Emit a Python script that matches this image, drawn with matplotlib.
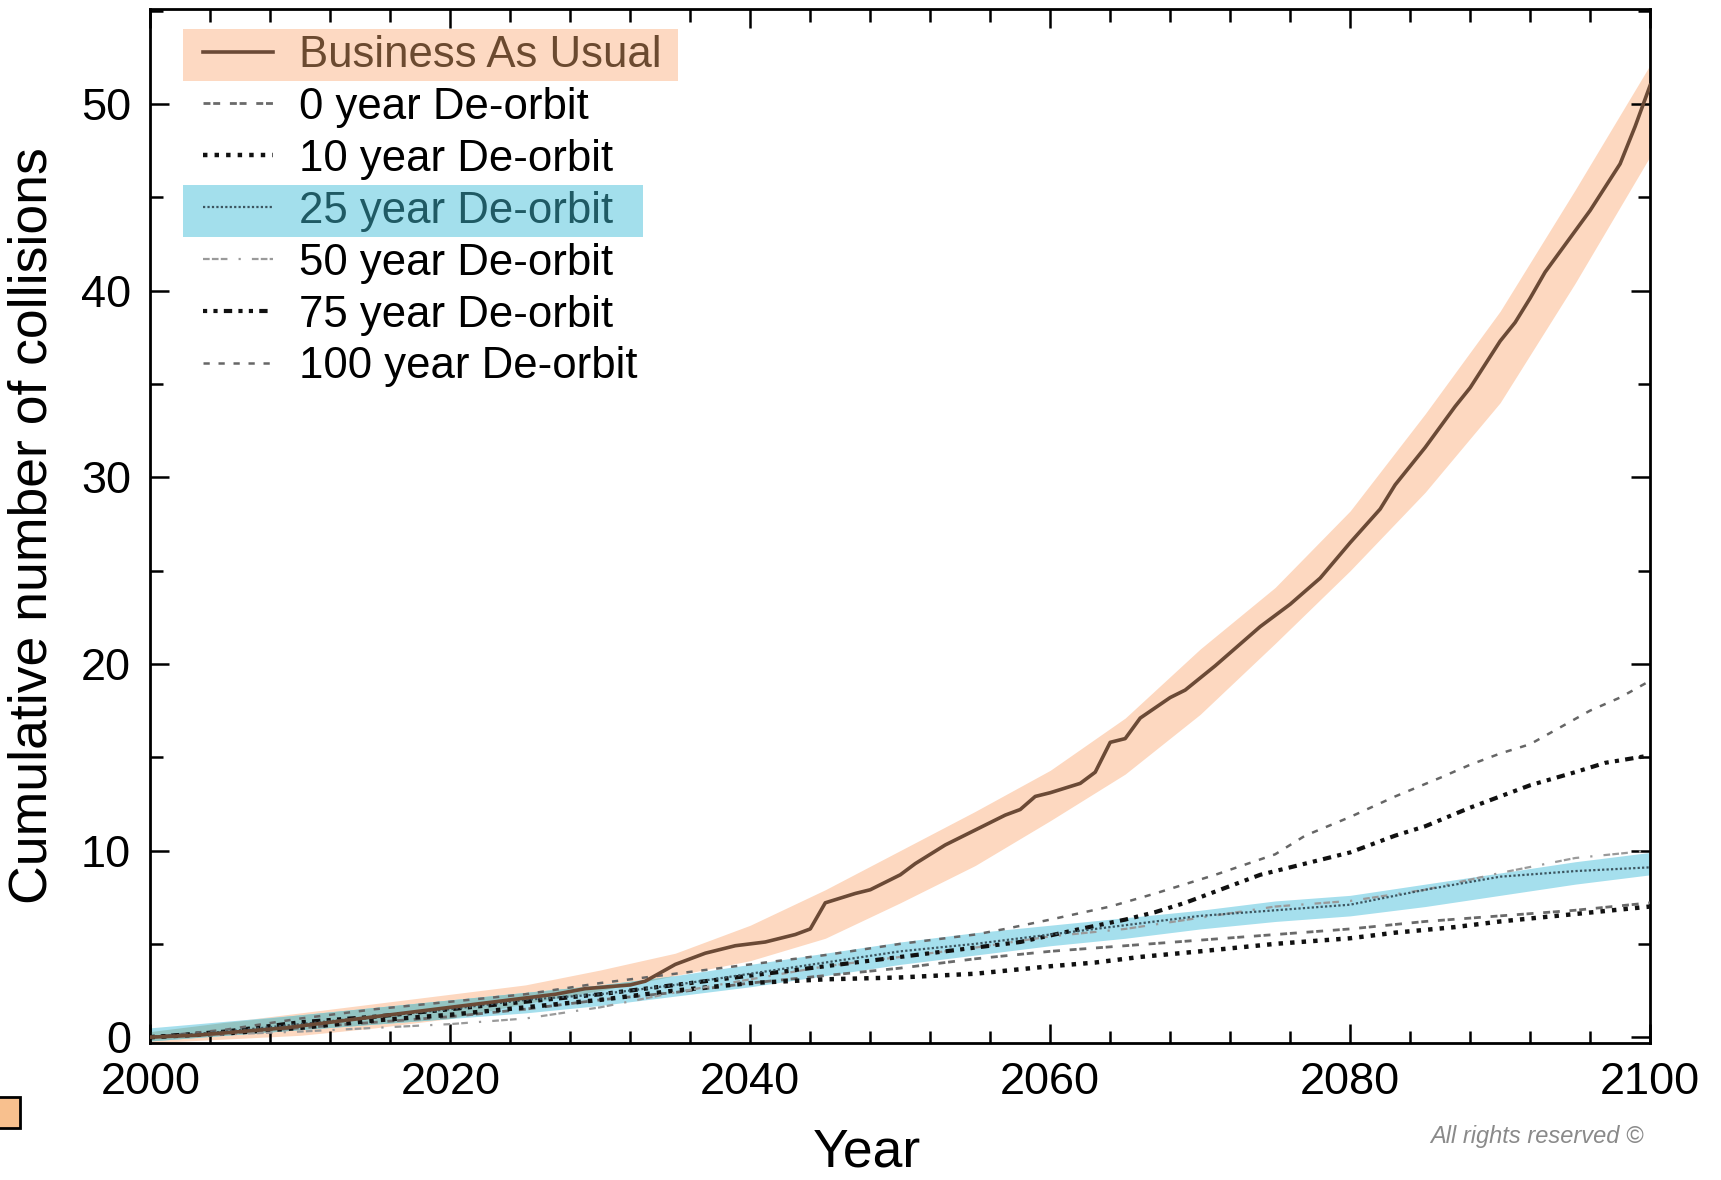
import numpy as np
import matplotlib.pyplot as plt
from matplotlib.lines import Line2D
from matplotlib.patches import Rectangle

plt.rcParams['font.family'] = ['Liberation Sans', 'DejaVu Sans']

# Business As Usual: mean cumulative collisions
bau_years = [2000, 2003, 2006, 2009, 2012, 2015, 2018, 2021, 2024, 2027, 2029, 2032,
             2033, 2035, 2037, 2039, 2041, 2043, 2044, 2045, 2047, 2048, 2049, 2050,
             2051, 2053, 2055, 2057, 2058, 2059, 2060, 2062, 2063, 2064, 2065, 2066,
             2068, 2069, 2071, 2073, 2074, 2076, 2078, 2080, 2081, 2082, 2083, 2085,
             2087, 2088, 2090, 2091, 2092, 2093, 2095, 2096, 2098, 2099, 2100]
bau_vals = [0.0, 0.1, 0.3, 0.5, 0.8, 1.1, 1.4, 1.7, 2.0, 2.3, 2.6, 2.8,
            3.0, 3.9, 4.5, 4.9, 5.1, 5.5, 5.8, 7.2, 7.7, 7.9, 8.3, 8.7,
            9.3, 10.3, 11.1, 11.9, 12.2, 12.9, 13.1, 13.6, 14.2, 15.8, 16.0, 17.1,
            18.2, 18.6, 19.9, 21.3, 22.0, 23.2, 24.6, 26.5, 27.4, 28.3, 29.6, 31.6,
            33.8, 34.8, 37.3, 38.3, 39.6, 41.0, 43.2, 44.3, 46.8, 48.8, 51.0]

# uncertainty bands, read every 5 years
band_years = [2000, 2005, 2010, 2015, 2020, 2025, 2030, 2035, 2040, 2045, 2050,
              2055, 2060, 2065, 2070, 2075, 2080, 2085, 2090, 2095, 2100]
bau_lo = [-0.3, -0.1, 0.1, 0.5, 1.0, 1.8, 2.5, 3.3, 4.1, 5.3, 7.2,
          9.2, 11.6, 14.1, 17.3, 21.1, 25.0, 29.2, 34.0, 40.4, 47.2]
bau_hi = [0.3, 0.8, 1.3, 1.8, 2.3, 2.8, 3.6, 4.5, 6.0, 7.9, 10.0,
          12.1, 14.3, 17.1, 20.8, 24.1, 28.2, 33.4, 38.9, 45.4, 52.1]
d25_lo = [-0.2, 0.1, 0.4, 0.7, 1.0, 1.3, 1.7, 2.2, 2.7, 3.3, 3.9,
          4.4, 4.9, 5.3, 5.8, 6.2, 6.5, 7.0, 7.6, 8.2, 8.7]
d25_hi = [0.5, 0.85, 1.2, 1.6, 2.0, 2.4, 2.8, 3.3, 3.9, 4.5, 5.1,
          5.6, 6.0, 6.4, 6.8, 7.3, 7.6, 8.2, 8.8, 9.4, 9.9]

# de-orbit scenarios
yrs_0 = [2000, 2005, 2010, 2015, 2020, 2025, 2030, 2035, 2040, 2045, 2050,
         2055, 2060, 2065, 2070, 2075, 2080, 2085, 2090, 2095, 2100]
vals_0 = [0.0, 0.2, 0.5, 0.8, 1.1, 1.5, 2.0, 2.4, 2.9, 3.3, 3.7,
          4.2, 4.6, 4.9, 5.2, 5.5, 5.8, 6.2, 6.5, 6.8, 7.2]

yrs_10 = [2000, 2005, 2010, 2015, 2020, 2025, 2030, 2035, 2040, 2045, 2050,
          2055, 2060, 2063, 2066, 2070, 2075, 2080, 2083, 2087, 2090, 2095, 2100]
vals_10 = [0.0, 0.2, 0.5, 0.9, 1.2, 1.6, 2.0, 2.5, 2.9, 3.1, 3.2,
           3.4, 3.8, 4.0, 4.3, 4.6, 5.0, 5.3, 5.6, 5.9, 6.2, 6.6, 7.0]

yrs_25 = [2000, 2005, 2010, 2015, 2020, 2025, 2030, 2035, 2040, 2045, 2050,
          2055, 2060, 2065, 2070, 2075, 2080, 2085, 2090, 2095, 2100]
vals_25 = [0.0, 0.3, 0.7, 1.1, 1.5, 2.0, 2.3, 2.8, 3.4, 4.0, 4.6,
           5.0, 5.5, 6.0, 6.5, 6.8, 7.1, 7.9, 8.6, 8.9, 9.1]

yrs_50 = [2000, 2010, 2020, 2025, 2030, 2035, 2040, 2045, 2050, 2055,
          2060, 2065, 2070, 2075, 2080, 2085, 2090, 2095, 2100]
vals_50 = [0.0, 0.3, 0.7, 1.0, 1.6, 2.4, 3.1, 3.8, 4.3, 4.8,
           5.4, 5.8, 6.4, 7.0, 7.3, 7.9, 8.8, 9.6, 10.0]

yrs_75 = [2000, 2005, 2010, 2015, 2020, 2025, 2030, 2035, 2040, 2045, 2050,
          2055, 2058, 2062, 2065, 2067, 2069, 2071, 2074, 2077, 2080, 2083,
          2085, 2088, 2090, 2092, 2095, 2097, 2100]
vals_75 = [0.0, 0.3, 0.8, 1.1, 1.5, 1.9, 2.3, 2.8, 3.3, 3.8, 4.3,
           4.8, 5.1, 5.8, 6.3, 6.7, 7.2, 7.8, 8.7, 9.3, 9.9, 10.8,
           11.3, 12.3, 12.9, 13.5, 14.2, 14.7, 15.1]

yrs_100 = [2000, 2005, 2010, 2015, 2020, 2025, 2030, 2035, 2040, 2045, 2050,
           2055, 2057, 2060, 2064, 2067, 2071, 2075, 2077, 2080, 2083, 2086,
           2088, 2090, 2092, 2094, 2096, 2098, 2100]
vals_100 = [0.0, 0.4, 1.0, 1.5, 1.9, 2.3, 2.9, 3.4, 3.9, 4.4, 5.0,
            5.5, 5.8, 6.3, 7.0, 7.7, 8.7, 9.8, 10.8, 11.8, 12.9, 13.9,
            14.6, 15.2, 15.7, 16.6, 17.5, 18.2, 19.1]

peach = '#fdd8c0'
blue = '#a5dfed'
overlap = '#93c4c2'

fig = plt.figure(figsize=(17.21, 11.80), dpi=100)
ax = fig.add_axes([0.0874, 0.1163, 0.8714, 0.8761])

# bands
ax.fill_between(band_years, bau_lo, bau_hi, color=peach, lw=0, zorder=1)
ax.fill_between(band_years, d25_lo, d25_hi, color=blue, lw=0, zorder=1.5)
ov_lo = np.maximum(bau_lo, d25_lo)
ov_hi = np.minimum(bau_hi, d25_hi)
ax.fill_between(band_years, ov_lo, ov_hi, where=ov_hi > ov_lo, interpolate=True,
                color=overlap, lw=0, zorder=1.7)

styles = {
    '0':   dict(color='#6a6a6a', lw=2.0, ls=(0, (2.5, 1.0, 2.5, 3.5))),
    '10':  dict(color='#111111', lw=3.2, ls=(0, (1.0, 1.6))),
    '25':  dict(color='#3c5560', lw=1.6, ls=(0, (1.0, 1.0))),
    '50':  dict(color='#9a9a9a', lw=1.6, ls=(0, (3, 1, 3, 1, 3, 5, 1, 5))),
    '75':  dict(color='#111111', lw=3.0, ls=(0, (1, 1.5, 1, 1.5, 2, 1.5))),
    '100': dict(color='#666666', lw=1.8, ls=(0, (2.5, 3.5))),
}
bau_style = dict(color='#6b4a36', lw=2.6, ls='-')

ax.plot(yrs_0, vals_0, zorder=3, **styles['0'])
ax.plot(yrs_10, vals_10, zorder=3, **styles['10'])
ax.plot(yrs_50, vals_50, zorder=3, **styles['50'])
ax.plot(yrs_75, vals_75, zorder=3, **styles['75'])
ax.plot(yrs_100, vals_100, zorder=3, **styles['100'])
ax.plot(yrs_25, vals_25, zorder=3.5, **styles['25'])
ax.plot(bau_years, bau_vals, zorder=4, **bau_style)

ax.set_xlim(2000, 2100)
ax.set_ylim(-0.3, 55.1)
ax.set_xticks([2000, 2020, 2040, 2060, 2080, 2100])
ax.set_xticks(np.arange(2000, 2101, 4), minor=True)
ax.set_yticks([0, 10, 20, 30, 40, 50])
ax.set_yticks(np.arange(0, 56, 5), minor=True)
ax.tick_params(which='both', direction='in', top=True, right=True, width=1.8,
               labelsize=32.5, pad=14)
ax.tick_params(which='major', length=14)
ax.tick_params(which='minor', length=9)
for s in ax.spines.values():
    s.set_linewidth(2.0)

ax.set_xlabel('Year', fontsize=38.5)
ax.set_ylabel('Cumulative number of collisions', fontsize=38.5)
ax.xaxis.set_label_coords(0.478, -0.082)
ax.yaxis.set_label_coords(-0.062, 0.5)

labels = ['Business As Usual', '0 year De-orbit', '10 year De-orbit', '25 year De-orbit',
          '50 year De-orbit', '75 year De-orbit', '100 year De-orbit']
handles = [Line2D([], [], **bau_style)] + [Line2D([], [], **styles[k])
                                           for k in ['0', '10', '25', '50', '75', '100']]
leg = ax.legend(handles, labels, loc='upper left', bbox_to_anchor=(0.035, 0.975),
                frameon=False, fontsize=31.5, handlelength=1.6, handletextpad=0.6,
                labelspacing=0.25, borderpad=0, borderaxespad=0)
leg.set_zorder(6)
texts = leg.get_texts()
texts[0].set_color('#6b4a30')
texts[3].set_color('#1f5a64')

# highlight boxes behind two legend rows
fig.canvas.draw()
inv = ax.transAxes.inverted()
hl = leg.legend_handles
for i, col, pad_r in [(0, '#fdd9c2', 16), (3, '#a3dfec', 30)]:
    tb = texts[i].get_window_extent()
    hb = hl[i].get_window_extent()
    x0 = hb.x0 - 20
    x1 = tb.x1 + pad_r
    cy = (tb.y0 + tb.y1) / 2
    (ax0, ay0), (ax1, ay1) = inv.transform([(x0, cy - 26), (x1, cy + 26)])
    ax.add_patch(Rectangle((ax0, ay0), ax1 - ax0, ay1 - ay0, transform=ax.transAxes,
                           facecolor=col, edgecolor='none', zorder=5, clip_on=False))

fig.text(0.955, 0.037, 'All rights reserved \u00a9', ha='right', va='center',
         fontsize=17, style='italic', color='#8a8a8a')
fig.patches.append(Rectangle((-0.005, 0.044), 0.0165, 0.026, transform=fig.transFigure,
                             facecolor='#f8c08e', edgecolor='black', lw=2))

fig.savefig('out.png', dpi=100)
